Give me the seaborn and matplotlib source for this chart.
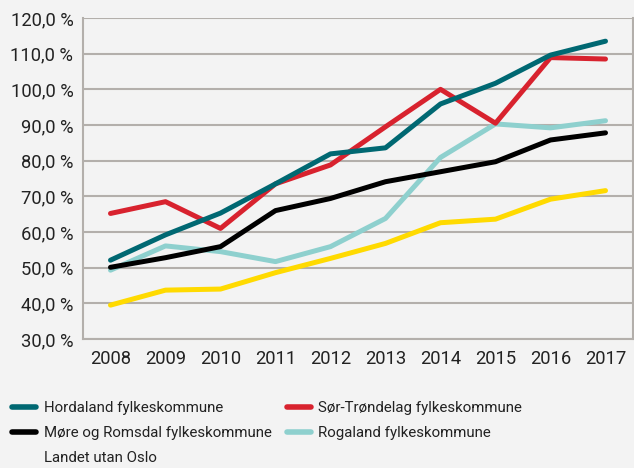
import matplotlib
matplotlib.use("Agg")
import matplotlib.pyplot as plt
import seaborn as sns
import pandas as pd
from matplotlib.lines import Line2D
from matplotlib.ticker import FuncFormatter, MultipleLocator

years = ["2008", "2009", "2010", "2011", "2012", "2013", "2014", "2015", "2016", "2017"]
hordaland = [52.1, 59.2, 65.3, 73.5, 81.9, 83.6, 95.9, 101.7, 109.6, 113.5]
sor_trondelag = [65.2, 68.5, 61.0, 73.5, 78.8, 89.5, 100.0, 90.5, 108.9, 108.5]
more_romsdal = [50.1, 52.8, 55.9, 66.0, 69.4, 74.1, 76.9, 79.7, 85.8, 87.8]
rogaland = [49.3, 56.1, 54.5, 51.7, 55.9, 63.8, 80.9, 90.3, 89.2, 91.2]
landet = [39.5, 43.7, 44.0, 48.6, 52.6, 56.8, 62.6, 63.6, 69.2, 71.6]

names = ["Hordaland fylkeskommune", "Sør-Trøndelag fylkeskommune",
         "Møre og Romsdal fylkeskommune", "Rogaland fylkeskommune", "Landet utan Oslo"]
series = [hordaland, sor_trondelag, more_romsdal, rogaland, landet]
colors = {"Hordaland fylkeskommune": "#006872",
          "Sør-Trøndelag fylkeskommune": "#D8222E",
          "Møre og Romsdal fylkeskommune": "#000000",
          "Rogaland fylkeskommune": "#8ED0CE",
          "Landet utan Oslo": "#FFDA00"}

rows = []
for n, s in zip(names, series):
    for i, v in enumerate(s):
        rows.append({"idx": i, "value": v, "serie": n})
df = pd.DataFrame(rows)

sns.set_theme(style="white")
plt.rcParams["font.family"] = ["Roboto", "DejaVu Sans"]

leg_size = 10.8

bg = "#F3F3F3"
grid = "#B3AFAB"
fig = plt.figure(figsize=(6.34, 4.68), dpi=100, facecolor=bg)
ax = fig.add_axes([83/634, 1-339/468, 550/634, (339-18)/468])
ax.set_facecolor(bg)

order = ["Landet utan Oslo", "Rogaland fylkeskommune", "Møre og Romsdal fylkeskommune",
         "Sør-Trøndelag fylkeskommune", "Hordaland fylkeskommune"]
for n in order:
    sns.lineplot(data=df[df["serie"] == n], x="idx", y="value", color=colors[n],
                 linewidth=3.6, ax=ax, legend=False, solid_capstyle="round", zorder=3)

ax.set_xlim(-0.5, 9.5)
ax.set_ylim(30, 120)
ax.yaxis.set_major_locator(MultipleLocator(10))
ax.yaxis.set_major_formatter(FuncFormatter(lambda v, p: f"{v:.1f}".replace(".", ",") + " %"))
ax.set_xticks(range(10))
ax.set_xticklabels(years)
ax.set_xticks([i - 0.5 for i in range(11)], minor=True)
ax.tick_params(axis="x", which="major", length=0, pad=8, labelsize=13.2, colors="#222222")
ax.tick_params(axis="x", which="minor", length=4, color=grid, width=1.5, direction="out")
ax.tick_params(axis="y", length=3, color=grid, width=1.5, pad=4, labelsize=13.2, colors="#222222")
ax.set_xlabel("")
ax.set_ylabel("")
ax.grid(axis="y", color=grid, linewidth=1.5)
ax.set_axisbelow(True)
for side in ["left", "bottom", "right"]:
    ax.spines[side].set_color(grid)
    ax.spines[side].set_linewidth(1.5)
ax.spines["top"].set_visible(False)

def h(c, a=1):
    return Line2D([], [], color=c, lw=4, alpha=a, solid_capstyle="round")

common = dict(loc="upper left", frameon=False, prop={"size": leg_size},
              handlelength=1.6, handletextpad=0.5, labelspacing=0.72, borderaxespad=0,
              borderpad=0)
col1 = fig.legend([h(colors["Hordaland fylkeskommune"]), h(colors["Møre og Romsdal fylkeskommune"]),
                   h(colors["Landet utan Oslo"], 0)],
                  ["Hordaland fylkeskommune", "Møre og Romsdal fylkeskommune", "Landet utan Oslo"],
                  bbox_to_anchor=(12/634, 1-401/468), **common)
col2 = fig.legend([h(colors["Sør-Trøndelag fylkeskommune"]), h(colors["Rogaland fylkeskommune"])],
                  ["Sør-Trøndelag fylkeskommune", "Rogaland fylkeskommune"],
                  bbox_to_anchor=(287/634, 1-401/468), **common)
for leg in (col1, col2):
    for t in leg.get_texts():
        t.set_color("#222222")

fig.savefig("out.png", dpi=100, facecolor=bg)
